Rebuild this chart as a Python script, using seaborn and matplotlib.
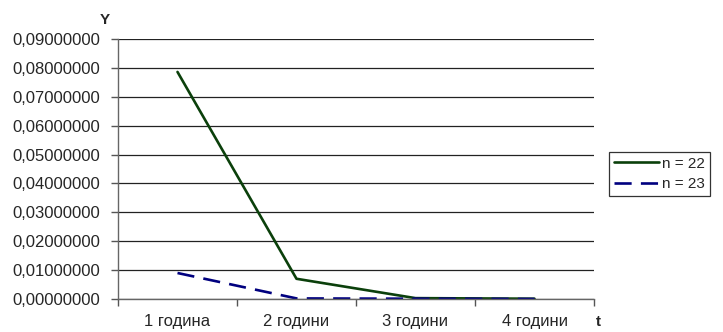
import matplotlib
matplotlib.use("Agg")
import matplotlib.pyplot as plt
import matplotlib.ticker as mticker
import seaborn as sns
import pandas as pd

# Values of Y per period for the two sample sizes
periods = ["1 година", "2 години", "3 години", "4 години"]
y_n22 = [0.0786, 0.0070, 0.0003, 0.0001]
y_n23 = [0.0090, 0.0002, 0.0001, 0.0000]
series_names = ["n = 22", "n = 23"]

df = pd.DataFrame({
    "pos": list(range(len(periods))) * 2,
    "Y": y_n22 + y_n23,
    "series": [series_names[0]] * len(periods) + [series_names[1]] * len(periods),
})

sns.set_theme(style="white")
plt.rcParams["font.family"] = ["Liberation Sans", "DejaVu Sans"]

fig = plt.figure(figsize=(7.23, 3.32), dpi=100)
ax = fig.add_axes([118 / 723, 1 - 299 / 332, (594 - 118) / 723, (299 - 39) / 332])

palette = {series_names[0]: "#0b400b", series_names[1]: "#00007f"}
dashes = {series_names[0]: "", series_names[1]: (6.5, 3.5)}
sns.lineplot(data=df, x="pos", y="Y", hue="series", style="series",
             palette=palette, dashes=dashes, linewidth=1.9, ax=ax, legend=False)

ax.set_xlim(-0.5, len(periods) - 0.5)
ax.set_ylim(0, 0.09)
ax.yaxis.set_major_locator(mticker.MultipleLocator(0.01))
ax.yaxis.set_major_formatter(mticker.FuncFormatter(lambda v, p: f"{v:.8f}".replace(".", ",")))

# category boundaries as major ticks, labels centred on minor ticks
ax.set_xticks([i - 0.5 for i in range(len(periods) + 1)])
ax.set_xticklabels([])
ax.set_xticks(range(len(periods)), minor=True)
ax.set_xticklabels(periods, minor=True)
ax.tick_params(axis="x", which="minor", length=0, pad=11, labelsize=12)
ax.tick_params(axis="x", which="major", direction="out", length=5, width=1, color="#555555", bottom=True)
ax.tick_params(axis="y", direction="out", length=5, width=1, color="#555555", left=True, labelsize=12, pad=8)

ax.grid(axis="y", color="#222222", linewidth=0.9)
ax.grid(axis="x", visible=False)
ax.get_ygridlines()[-1].set_color("#cccccc")
ax.set_axisbelow(True)
for side in ["top", "right"]:
    ax.spines[side].set_visible(False)
for side in ["left", "bottom"]:
    ax.spines[side].set_color("#666666")
    ax.spines[side].set_linewidth(1.0)

ax.set_xlabel("")
ax.set_ylabel("")
fig.text(105 / 723, 1 - 20 / 332, "Y", fontsize=11, fontweight="bold", ha="center", va="center")
fig.text(598 / 723, 1 - 322 / 332, "t", fontsize=11, fontweight="bold", ha="center", va="center")

handles = [
    plt.Line2D([], [], color=palette[series_names[0]], linewidth=1.9),
    plt.Line2D([], [], color=palette[series_names[1]], linewidth=1.9, dashes=(6.5, 3.5)),
]
leg = fig.legend(handles, series_names, loc="center left",
                 bbox_to_anchor=(609 / 723, 1 - 174 / 332), frameon=True,
                 fancybox=False, fontsize=11, handlelength=3.0, handletextpad=0.2,
                 borderpad=0.3, labelspacing=0.45, borderaxespad=0)
leg.get_frame().set_edgecolor("black")
leg.get_frame().set_linewidth(0.9)

fig.savefig("out.png", dpi=100, facecolor="white")
